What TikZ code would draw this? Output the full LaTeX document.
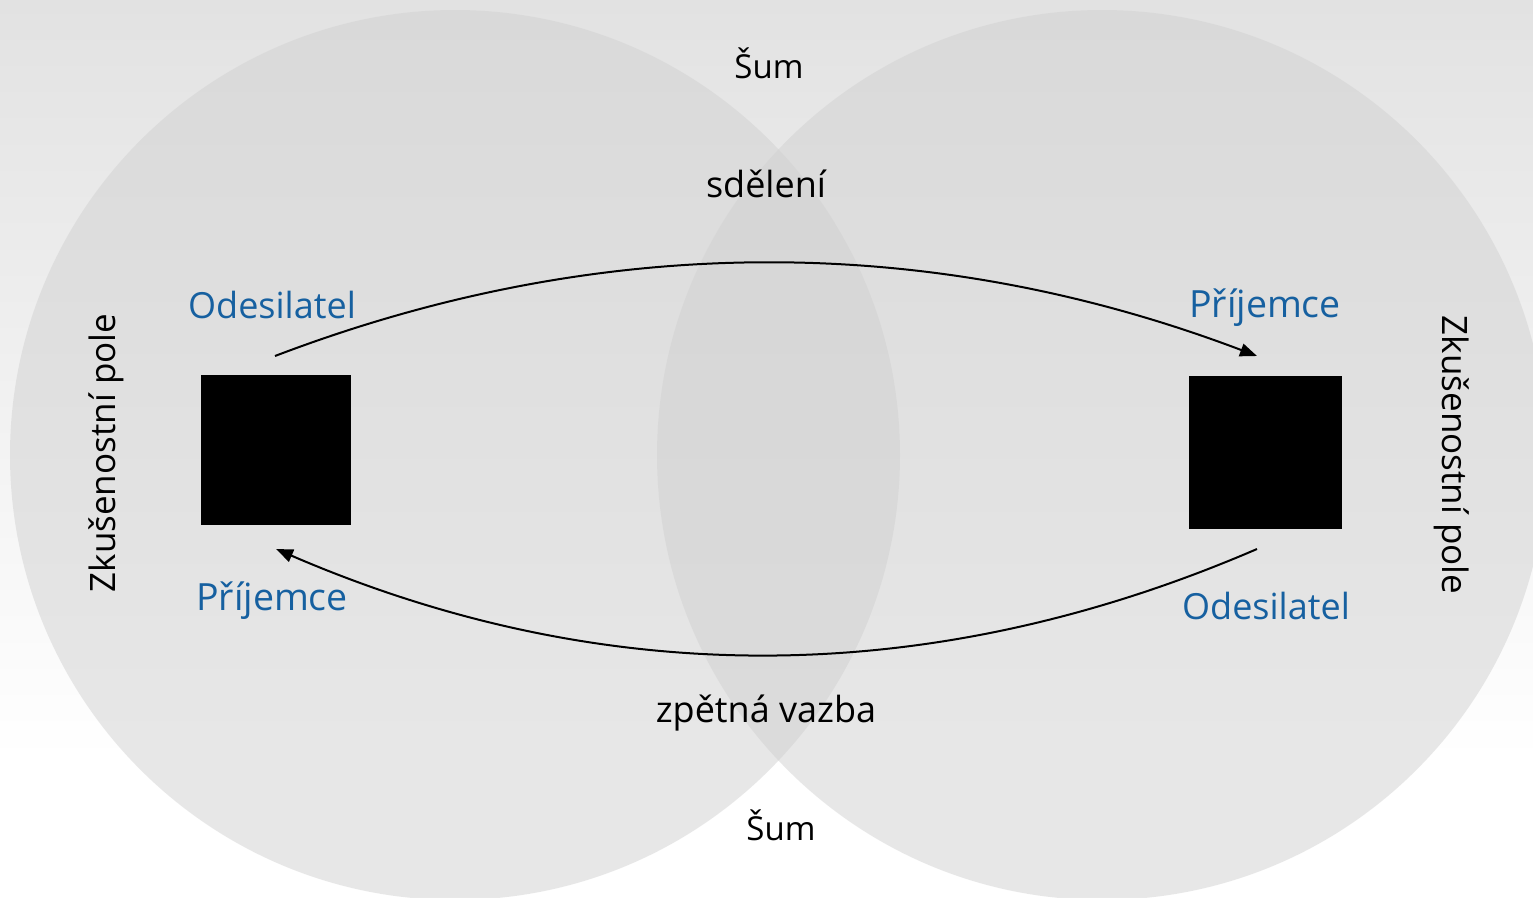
\documentclass[tikz,border=0pt]{standalone}
\usepackage{fontspec}
\setmainfont{Open Sans}
\usetikzlibrary{arrows.meta}
\definecolor{bgtop}{RGB}{226,226,226}
\definecolor{fieldgray}{RGB}{209,209,209}
\definecolor{rolecolor}{RGB}{22,96,160}
\begin{document}
\begin{tikzpicture}[x=1pt,y=-1pt,
  field/.style={fill=fieldgray, fill opacity=0.5},
  lbl/.style={inner sep=0pt, anchor=base, text=black, font=\fontsize{36}{40}\selectfont},
  role/.style={lbl, text=rolecolor},
  box/.style={fill=black, draw=none, inner sep=0pt, minimum size=#1},
  conn/.style={line width=2pt, -{Triangle[length=17pt,width=13pt]}}]
\useasboundingbox (0,0) rectangle (1533,897);
% background gradient
\shade[top color=bgtop, bottom color=white] (0,0) rectangle (1533,760);
\fill[white] (0,760) rectangle (1533,897);
% experience fields
\fill[field] (455,455) circle[radius=445];
\fill[field] (1102,455) circle[radius=445];
% participants
\node[box=150pt] (leftbox) at (276,450) {};
\node[box=153pt] (rightbox) at (1265.5,452.5) {};
% labels
\node[lbl, font=\fontsize{33}{40}\selectfont] (noisetop) at (769,78) {Šum};
\node[lbl] (message) at (766,197) {sdělení};
\node[lbl] (feedback) at (766,722) {zpětná vazba};
\node[lbl, font=\fontsize{33}{40}\selectfont] (noisebot) at (781,840) {Šum};
\node[role] (sendL) at (272,318) {Odesilatel};
\node[role, font=\fontsize{37.5}{40}\selectfont] (recvR) at (1265,317) {Příjemce};
\node[role, font=\fontsize{37.5}{40}\selectfont] (recvL) at (272,610) {Příjemce};
\node[role] (sendR) at (1266,619) {Odesilatel};
\node[lbl, rotate=90, font=\fontsize{35}{40}\selectfont] (fieldL) at (115,453) {Zkušenostní pole};
\node[lbl, rotate=-90, font=\fontsize{35}{40}\selectfont] (fieldR) at (1442,455) {Zkušenostní pole};
% message and feedback arcs
\coordinate (msgStart) at (275,356);
\coordinate (msgEnd) at (1257,356);
\coordinate (fbStart) at (1257,549);
\coordinate (fbEnd) at (276,549);
\draw[conn] (msgStart) .. controls (600,232) and (930,232) .. (msgEnd);
\draw[conn] (fbStart) .. controls (930,690) and (603,690) .. (fbEnd);
\end{tikzpicture}
\end{document}
